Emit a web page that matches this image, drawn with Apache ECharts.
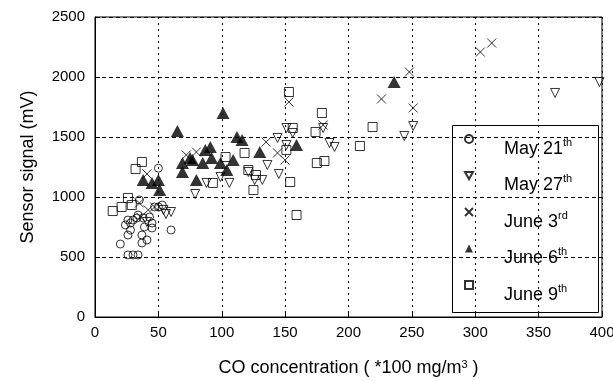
<!DOCTYPE html>
<html><head><meta charset="utf-8">
<script src="https://cdn.jsdelivr.net/npm/echarts@6/dist/echarts.min.js"></script>
<style>html,body{margin:0;padding:0;background:#fff}#c{width:613px;height:381px}</style>
</head><body><div id="c"></div>
<script>
var xTicks = [0, 50, 100, 150, 200, 250, 300, 350, 400];
var yTicks = [0, 500, 1000, 1500, 2000, 2500];
var seriesNames = ['May 21th', 'May 27th', 'June 3rd', 'June 6th', 'June 9th'];
var legendBase = ['May 21', 'May 27', 'June 3', 'June 6', 'June 9'];
var legendSup = ['th', 'th', 'rd', 'th', 'th'];

var may21 = [[50,1240],[35,975],[50,917],[53,933],[34,850],[30,808],[33,825],[38,825],[43,833],[26,808],[45,783],[24,767],[28,783],[39,750],[45,742],[28,725],[26,683],[37,683],[20,608],[37,617],[41,642],[26,517],[30,517],[34,517],[60,725],[47,917]];
var may27 = [[41,792],[54,892],[56,858],[60,875],[79,1025],[88,1117],[99,1167],[106,1117],[121,1208],[126,1142],[132,1142],[136,1267],[145,1192],[144,1492],[151,1575],[156,1533],[151,1433],[185,1450],[189,1417],[180,1575],[244,1508],[251,1592],[363,1867],[398,1958]];
var june3 = [[41,1192],[35,950],[42,892],[36,833],[47,917],[72,1350],[80,1375],[135,1458],[144,1367],[150,1308],[153,1792],[180,1600],[226,1817],[251,1742],[248,2042],[304,2208],[313,2283]];
var june6 = [[65,1550],[69,1283],[75,1325],[69,1208],[80,1142],[38,1142],[45,1117],[50,1142],[51,1058],[77,1308],[87,1392],[91,1417],[85,1283],[92,1325],[99,1283],[104,1225],[101,1700],[112,1500],[116,1475],[130,1375],[159,1433],[236,1958],[109,1308]];
var june9 = [[14,883],[21,917],[29,933],[26,992],[32,1233],[37,1292],[93,1117],[103,1333],[118,1367],[121,1225],[127,1183],[125,1058],[151,1392],[154,1125],[159,850],[156,1575],[153,1875],[179,1700],[174,1542],[175,1283],[181,1300],[219,1583],[209,1425]];

var FONT = 'Liberation Sans';
var hollow = {color: 'rgba(0,0,0,0)', borderColor: '#000', borderWidth: 1};
var chart = echarts.init(document.getElementById('c'));
var legendMap = {};
seriesNames.forEach(function (n, i) { legendMap[n] = legendBase[i] + '{sup|' + legendSup[i] + '}'; });

chart.setOption({
  animation: false,
  textStyle: {fontFamily: FONT, color: '#000'},
  grid: {left: 95, right: 11, top: 17, bottom: 64, outerBoundsMode: 'none', containLabel: false,
    show: true, borderColor: '#000', borderWidth: 1, backgroundColor: 'transparent'},
  graphic: [{
    type: 'rect', left: 450, top: 123, silent: true, z: 10,
    shape: {width: 146, height: 187},
    style: {fill: 'none', stroke: '#000', lineWidth: 1}
  }],
  xAxis: {
    type: 'value', min: xTicks[0], max: xTicks[xTicks.length - 1], interval: 50,
    name: 'CO concentration ( *100 mg/m{sup|3} )', nameLocation: 'middle', nameGap: 42,
    nameTextStyle: {fontSize: 18, color: '#000', fontFamily: FONT, rich: {sup: {fontSize: 11, verticalAlign: 'top', lineHeight: 12, fontFamily: FONT}}},
    axisLine: {show: true, lineStyle: {color: '#000', width: 1}},
    axisTick: {show: true, inside: true, length: 5, lineStyle: {color: '#000'}},
    axisLabel: {fontSize: 15, color: '#000', margin: 8, fontFamily: FONT, formatter: function (v) { return String(v); }},
    splitLine: {show: true, lineStyle: {color: '#000', type: [2, 4], width: 1}}
  },
  yAxis: {
    type: 'value', min: yTicks[0], max: yTicks[yTicks.length - 1], interval: 500,
    name: 'Sensor signal (mV)', nameLocation: 'middle', nameGap: 58,
    nameTextStyle: {fontSize: 18, color: '#000', fontFamily: FONT},
    axisLine: {show: true, lineStyle: {color: '#000', width: 1}},
    axisTick: {show: true, inside: true, length: 5, lineStyle: {color: '#000'}},
    axisLabel: {fontSize: 15, color: '#000', margin: 10, fontFamily: FONT, formatter: function (v) { return String(v); }},
    splitLine: {show: true, lineStyle: {color: '#000', type: [4, 3], width: 1}}
  },
  legend: {
    orient: 'vertical', left: 464, top: 117,
    data: seriesNames,
    itemWidth: 8, itemHeight: 8, itemGap: -7.5,
    padding: 0,
    formatter: function (n) { return legendMap[n]; },
    textStyle: {fontSize: 18, color: '#000', fontFamily: FONT, padding: [20, 0, 0, 26], lineHeight: 24,
      rich: {sup: {fontSize: 11, verticalAlign: 'top', lineHeight: 12, fontFamily: FONT}}}
  },
  series: [
    {name: seriesNames[0], type: 'scatter', data: may21, symbol: 'circle', symbolSize: 8, itemStyle: hollow},
    {name: seriesNames[1], type: 'scatter', data: may27, symbol: 'path://M0,0L10,0L5,9Z', symbolSize: 9, itemStyle: hollow},
    {name: seriesNames[2], type: 'scatter', data: june3, symbol: 'path://M0,0L10,10M10,0L0,10', symbolSize: 9, itemStyle: hollow},
    {name: seriesNames[3], type: 'scatter', data: june6, symbol: 'triangle', symbolSize: [13, 12], itemStyle: {color: '#000'}},
    {name: seriesNames[4], type: 'scatter', data: june9, symbol: 'rect', symbolSize: 9, itemStyle: hollow}
  ]
});
</script></body></html>
